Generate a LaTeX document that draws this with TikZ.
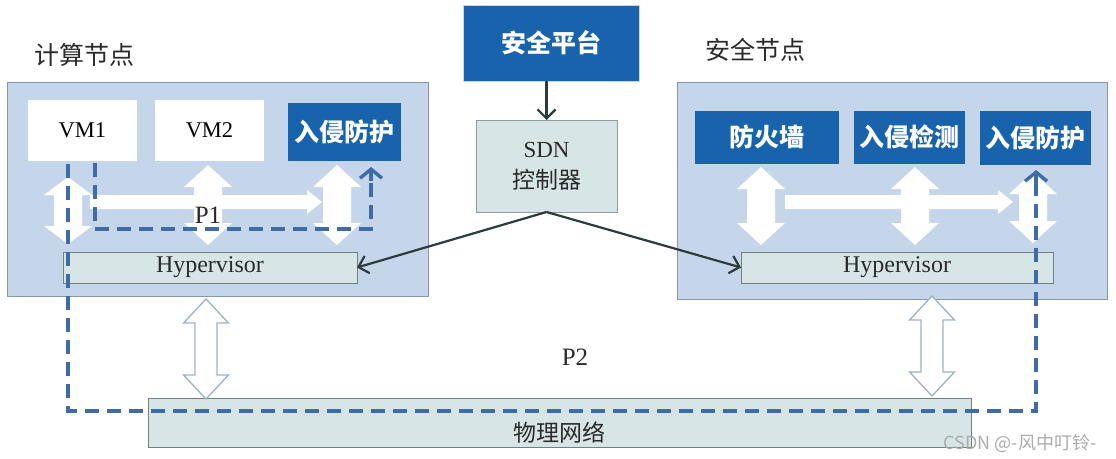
\documentclass[tikz,border=0pt]{standalone}
\usepackage{fontspec}
\setmainfont{Liberation Serif}
\newfontfamily\cjk{Noto Sans CJK SC}
\usetikzlibrary{arrows.meta,calc}
\definecolor{panelfill}{HTML}{C6D6EA}
\definecolor{paneldraw}{HTML}{8797AA}
\definecolor{darkblue}{HTML}{1863AC}
\definecolor{hypfill}{HTML}{D8E5E7}
\definecolor{hypdraw}{HTML}{6F8282}
\definecolor{dashblue}{HTML}{3F6CA6}
\definecolor{hollowdraw}{HTML}{9DB2C6}
\definecolor{darkline}{HTML}{2C3B3C}
\definecolor{textgray}{HTML}{2A2A2A}
\newcommand{\dblarrowV}[7]{%
  \path[#7] (#1,#2) -- (#1+#4,#2+#6) -- (#1+#5,#2+#6) -- (#1+#5,#3-#6)
    -- (#1+#4,#3-#6) -- (#1,#3) -- (#1-#4,#3-#6) -- (#1-#5,#3-#6)
    -- (#1-#5,#2+#6) -- (#1-#4,#2+#6) -- cycle;}
\newcommand{\sglarrowH}[7]{%
  \path[#7] (#1,#3-#5) -- (#2-#6,#3-#5) -- (#2-#6,#3-#4) -- (#2,#3)
    -- (#2-#6,#3+#4) -- (#2-#6,#3+#5) -- (#1,#3+#5) -- cycle;}
\tikzset{
  panel/.style={draw=paneldraw, fill=panelfill, line width=1pt, inner sep=0pt, outer sep=0pt},
  vmbox/.style={fill=white, inner sep=0pt, outer sep=0pt, font=\fontsize{22.5}{26}\selectfont, text=black},
  darkbox/.style={fill=darkblue, draw=white!75!darkblue, line width=0.8pt, inner sep=0pt, outer sep=0pt, text=white, font=\cjk\bfseries\fontsize{25}{28}\selectfont},
  hypbox/.style={fill=hypfill, draw=hypdraw, line width=1pt, inner sep=0pt, outer sep=0pt, text=textgray, font=\fontsize{24}{26}\selectfont},
  titletext/.style={text=textgray, font=\cjk\fontsize{25}{28}\selectfont, inner sep=0pt},
  whitearrow/.style={fill=white},
  hollowarrow/.style={fill=white, draw=hollowdraw, line width=1.3pt},
  pathdash/.style={draw=dashblue, line width=3.6pt, dash pattern=on 14pt off 8pt},
  ctrl/.style={draw=darkline, line width=2.2pt, -{Straight Barb[length=9pt,width=18pt,line width=2.2pt]}},
  pathlabel/.style={text=textgray, font=\fontsize{25}{28}\selectfont, inner sep=0pt}
}
\begin{document}
\begin{tikzpicture}[x=1pt,y=-1pt]
\useasboundingbox (0,0) rectangle (1116,458);
\fill[white] (0,0) rectangle (1116,458);

% titles
\node[titletext] (tcomp) at (84,55) {计算节点};
\node[titletext] (tsec) at (755,50) {安全节点};

% panels
\node[panel, minimum width=421pt, minimum height=214pt] (panelL) at (217.5,189) {};
\node[panel, minimum width=430pt, minimum height=217pt] (panelR) at (892,190.5) {};

% left panel boxes
\node[vmbox, minimum width=109pt, minimum height=61pt] (vm1) at (82.5,130.5) {VM1};
\node[vmbox, minimum width=109pt, minimum height=61pt] (vm2) at (209.5,130.5) {VM2};
\node[darkbox, minimum width=114pt, minimum height=59pt] (ipsL) at (344,131.5) {入侵防护};
\node[hypbox, minimum width=294pt, minimum height=31pt] (hypL) at (210,267.5) {Hypervisor};

% right panel boxes
\node[darkbox, minimum width=145pt, minimum height=54pt] (fw) at (766.5,137) {防火墙};
\node[darkbox, minimum width=112pt, minimum height=54pt] (ids) at (909,137) {入侵检测};
\node[darkbox, minimum width=112pt, minimum height=55pt] (ipsR) at (1035,137.5) {入侵防护};
\node[hypbox, minimum width=312pt, minimum height=31pt] (hypR) at (897,267.5) {Hypervisor};

% top
\node[darkbox, minimum width=176pt, minimum height=76pt] (plat) at (551,43) {安全平台};
\node[hypbox, draw=hypdraw!80, minimum width=141pt, minimum height=92pt, align=center,
      font=\fontsize{23}{31}\selectfont] (sdn) at (546.5,166) {SDN\\{\cjk 控制器}};

% physical network
\node[hypbox, minimum width=823pt, minimum height=49pt] (phys) at (559.5,422.5) {};

% white double arrows (left)
\dblarrowV{68}{177}{244}{24}{14}{18}{whitearrow}
\dblarrowV{208}{165}{245}{24}{14}{22}{whitearrow}
\dblarrowV{337}{165}{245}{24}{14}{22}{whitearrow}
\sglarrowH{90}{322}{202}{12}{7}{15}{whitearrow}
% white double arrows (right)
\dblarrowV{761}{167}{245}{24}{14}{22}{whitearrow}
\dblarrowV{915}{167}{245}{24}{14}{22}{whitearrow}
\dblarrowV{1033}{172}{243}{24}{14}{22}{whitearrow}
\sglarrowH{785}{1013}{202}{12}{7}{15}{whitearrow}

% hollow arrows
\dblarrowV{206}{299}{399}{22.5}{11}{24}{hollowarrow}
\dblarrowV{932}{296}{396}{22.5}{11}{24}{hollowarrow}

% phys label
\node[text=textgray, font=\cjk\fontsize{23}{26}\selectfont, inner sep=0pt] (physlabel) at (phys.center) [yshift=-10pt] {物理网络};

% control connectors
\draw[ctrl] (sdn.north |- plat.south) -- (sdn.north);
\draw[ctrl] (sdn.south) -- (hypL.east);
\draw[ctrl] (sdn.south) -- (hypR.west);

% P1 dashed path
\coordinate (p1s) at (95,163);
\coordinate (p1a) at (95,229);
\coordinate (p1b) at (371,229);
\coordinate (p1e) at (371,167);
\coordinate (p1f) at (371,181);
\draw[pathdash] (p1s) -- (p1a) -- (p1b) -- (p1f);
\draw[draw=dashblue, line width=3.6pt, -{Straight Barb[length=9pt,width=22pt,line width=3.4pt]}] (p1f) -- (p1e);

% P2 dashed path
\coordinate (p2s) at (68,164);
\coordinate (p2a) at (68,411);
\coordinate (p2b) at (1036,411);
\coordinate (p2e) at (1036,170);
\coordinate (p2f) at (1036,184);
\draw[pathdash] (p2s) -- (p2a) -- (p2b) -- (p2f);
\draw[draw=dashblue, line width=3.6pt, -{Straight Barb[length=9pt,width=22pt,line width=3.4pt]}] (p2f) -- (p2e);

% labels
\node[pathlabel] (lp1) at (208,215) {P1};
\node[pathlabel] (lp2) at (575,357) {P2};

% watermark
\node[text=black!33, font=\cjk\fontsize{18}{20}\selectfont, inner sep=0pt] (wm) at (1020,443) {CSDN @-风中叮铃-};
\end{tikzpicture}
\end{document}
